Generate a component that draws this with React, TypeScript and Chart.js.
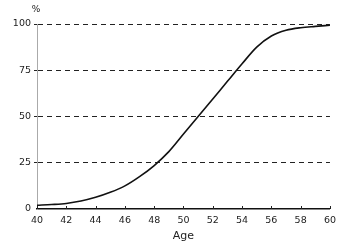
import React, { useEffect, useRef } from "react";
import { Chart, registerables } from "chart.js";

Chart.register(...registerables);

const ages = [40, 41, 42, 43, 44, 45, 46, 47, 48, 49, 50, 51, 52, 53, 54, 55, 56, 57, 58, 59, 60];
const percents = [2, 2.4, 3, 4.3, 6.3, 9, 12.5, 17.5, 23.5, 31, 40.5, 50, 59.5, 69, 78.5, 87.5, 93.5, 96.6, 98, 98.7, 99.3];
const xTicks = [40, 42, 44, 46, 48, 50, 52, 54, 56, 58, 60];
const yTicks = [0, 25, 50, 75, 100];
const xTitle = "Age";
const yUnit = "%";

const FONT = "'DejaVu Sans', sans-serif";

const extras = {
  id: "extras",
  afterDraw(chart: any) {
    const { ctx, chartArea, scales } = chart;
    ctx.save();
    ctx.fillStyle = "#222";
    ctx.font = `9px ${FONT}`;
    ctx.textAlign = "center";
    ctx.textBaseline = "middle";
    ctx.fillText(yUnit, chartArea.left - 1, chartArea.top - 14);
    ctx.strokeStyle = "#222";
    ctx.lineWidth = 1;
    for (const v of xTicks) {
      const px = Math.round(scales.x.getPixelForValue(v)) + 0.5;
      ctx.beginPath();
      ctx.moveTo(px, chartArea.bottom);
      ctx.lineTo(px, chartArea.bottom - 3);
      ctx.stroke();
    }
    ctx.restore();
  },
};

export default function App() {
  const ref = useRef<HTMLCanvasElement | null>(null);
  useEffect(() => {
    if (!ref.current) return;
    const chart = new Chart(ref.current, {
      type: "line",
      data: {
        datasets: [
          {
            data: ages.map((a, i) => ({ x: a, y: percents[i] })),
            borderColor: "#111",
            borderWidth: 1.6,
            pointRadius: 0,
            cubicInterpolationMode: "monotone",
            fill: false,
          },
        ],
      },
      options: {
        animation: false,
        responsive: false,
        maintainAspectRatio: false,
        layout: { padding: { top: 24, right: 11, left: 0, bottom: 0 } },
        plugins: { legend: { display: false }, tooltip: { enabled: false } },
        scales: {
          x: {
            type: "linear",
            min: 40,
            max: 60,
            afterBuildTicks: (s: any) => {
              s.ticks = xTicks.map((v) => ({ value: v }));
            },
            afterFit: (s: any) => {
              s.height = 36;
            },
            grid: { display: false, drawTicks: false },
            border: { display: true, color: "#111", width: 1.5 },
            ticks: {
              color: "#222",
              font: { family: FONT, size: 9.5 },
              padding: 6,
              maxRotation: 0,
            },
            title: {
              display: true,
              text: xTitle,
              color: "#222",
              font: { family: FONT, size: 11 },
              padding: { top: 0, bottom: 2 },
            },
          },
          y: {
            type: "linear",
            min: 0,
            max: 100,
            afterBuildTicks: (s: any) => {
              s.ticks = yTicks.map((v) => ({ value: v }));
            },
            afterFit: (s: any) => {
              s.width = 37;
            },
            grid: {
              color: (c: any) => (c.tick && c.tick.value === 0 ? "rgba(0,0,0,0)" : "#222"),
              lineWidth: 1,
              drawTicks: true,
              tickLength: 3,
            },
            border: { display: true, color: "#aaa", width: 1, dash: [5, 4] },
            ticks: {
              color: "#222",
              font: { family: FONT, size: 9.5 },
              padding: 3,
            },
          },
        },
      },
      plugins: [extras],
    } as any);
    return () => chart.destroy();
  }, []);
  return (
    <div style={{ position: "absolute", left: 0, top: 0, width: 342, height: 245, background: "#fff" }}>
      <canvas ref={ref} width={342} height={245} style={{ display: "block" }} />
    </div>
  );
}
